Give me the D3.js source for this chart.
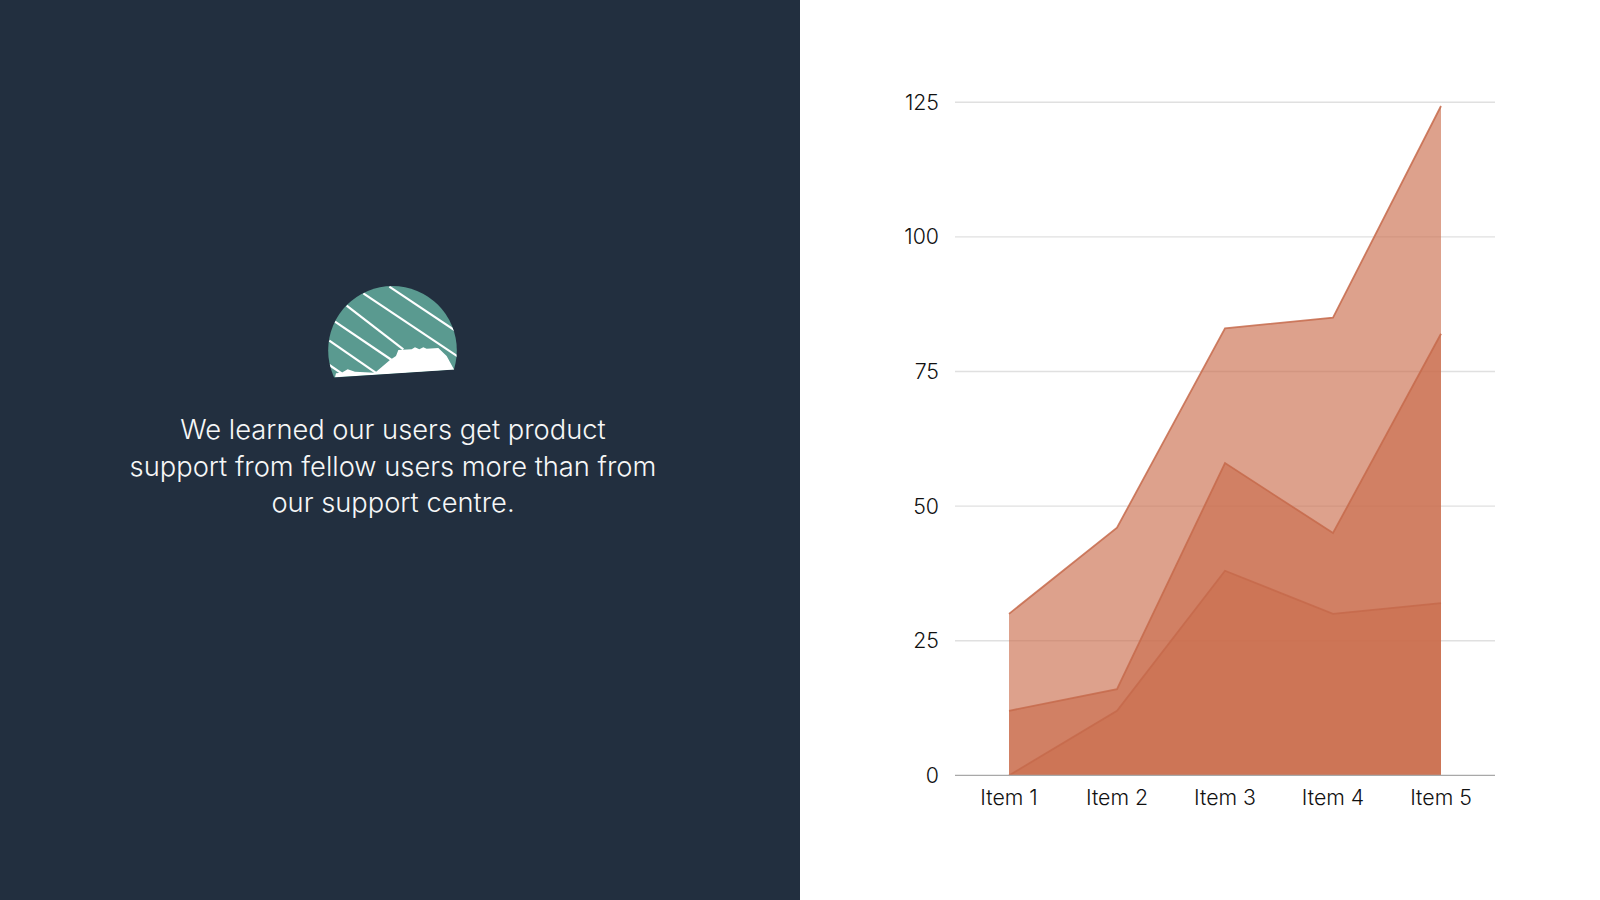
<!DOCTYPE html>
<html>
<head>
<meta charset="utf-8">
<script src="https://cdn.jsdelivr.net/npm/d3@7"></script>
<style>
html, body { margin: 0; padding: 0; background: #fff; }
svg { display: block; }
text { font-family: Inter, "Open Sans", sans-serif; font-weight: 300; }
</style>
</head>
<body>
<script>
var categories = ['Item 1', 'Item 2', 'Item 3', 'Item 4', 'Item 5'];
var series1 = [30, 46, 83, 85, 124.3];
var series2 = [12, 16, 58, 45, 82];
var series3 = [0, 12, 38, 30, 32];
var yTicks = [0, 25, 50, 75, 100, 125];
var captionLines = [
    'We learned our users get product',
    'support from fellow users more than from',
    'our support centre.'
];

var svg = d3.select('body').append('svg')
            .attr('width', 1600).attr('height', 900);

svg.append('rect').attr('width', 1600).attr('height', 900).attr('fill', '#fff');
svg.append('rect').attr('width', 800).attr('height', 900).attr('fill', '#222f3f');

// logo, drawn in zoomed coordinates
var logo = svg.append('g').attr('transform', 'translate(300,270) scale(0.3333)');
var clip = svg.append('clipPath').attr('id', 'logo-clip');
clip.append('path').attr('d', 'M 0 329.5 L 600 289.3 L 600 0 L 0 0 Z');
var logoBody = logo.append('g').attr('clip-path', 'url(#logo-clip)');
logoBody.append('circle').attr('cx', 277.5).attr('cy', 241).attr('r', 193).attr('fill', '#5a9a90');
var stripes = [
    [268, 50, 470, 185], [190, 70, 480, 264], [140, 107, 310, 238],
    [105, 155, 275, 270], [88, 212, 230, 310], [88, 285, 125, 310]
];
var stripeClip = svg.append('clipPath').attr('id', 'stripe-clip');
stripeClip.append('circle').attr('cx', 277.5).attr('cy', 241).attr('r', 193);
logoBody.append('g').attr('clip-path', 'url(#stripe-clip)')
    .selectAll('line').data(stripes).enter().append('line')
    .attr('x1', function(d) { return d[0]; })
    .attr('y1', function(d) { return d[1]; })
    .attr('x2', function(d) { return d[2]; })
    .attr('y2', function(d) { return d[3]; })
    .attr('stroke', '#fff').attr('stroke-width', 6.5);
var ridge = [[105, 322], [108, 310], [125, 308], [143, 298], [165, 305], [225, 308], [270, 270],
    [288, 258], [295, 240], [335, 238], [345, 232], [358, 238], [370, 232], [380, 236],
    [415, 234], [440, 258], [463, 300]];
logoBody.append('path').attr('d', d3.line()(ridge) + 'Z').attr('fill', '#fff');

// caption
svg.selectAll('.caption').data(captionLines).enter().append('text')
    .attr('class', 'caption')
    .attr('x', 393)
    .attr('y', function(d, i) { return 439 + i * 36.7; })
    .attr('text-anchor', 'middle')
    .attr('font-size', 27.3)
    .attr('fill', '#f6f7f7')
    .text(function(d) { return d; });

// chart
var x = d3.scaleBand().domain(categories).range([955, 1495]);
var y = d3.scaleLinear().domain([0, 125]).range([775.4, 102.2]);

svg.selectAll('.grid').data(yTicks.slice(1)).enter().append('line')
    .attr('class', 'grid')
    .attr('x1', 955).attr('x2', 1495)
    .attr('y1', function(d) { return y(d); })
    .attr('y2', function(d) { return y(d); })
    .attr('stroke', '#e0e0e0').attr('stroke-width', 1.4);

var area = d3.area()
    .x(function(d, i) { return x(categories[i]) + x.bandwidth() / 2; })
    .y0(y(0))
    .y1(function(d) { return y(d); });
var topLine = d3.line()
    .x(function(d, i) { return x(categories[i]) + x.bandwidth() / 2; })
    .y(function(d) { return y(d); });

[series1, series2, series3].forEach(function(s) {
    svg.append('path').attr('d', area(s))
       .attr('fill', '#cb6e4f').attr('fill-opacity', 0.65);
    svg.append('path').attr('d', topLine(s))
       .attr('fill', 'none')
       .attr('stroke', '#c66a4b').attr('stroke-opacity', 0.85).attr('stroke-width', 1.8);
});

svg.append('line')
    .attr('x1', 955).attr('x2', 1495)
    .attr('y1', y(0)).attr('y2', y(0))
    .attr('stroke', '#a8a8a8').attr('stroke-width', 1.2);

svg.selectAll('.ytick').data(yTicks).enter().append('text')
    .attr('class', 'ytick')
    .attr('x', 939)
    .attr('y', function(d) { return y(d) + 7.5; })
    .attr('text-anchor', 'end')
    .attr('font-size', 21.3)
    .attr('fill', '#111')
    .text(function(d) { return d; });

svg.selectAll('.xtick').data(categories).enter().append('text')
    .attr('class', 'xtick')
    .attr('x', function(d) { return x(d) + x.bandwidth() / 2; })
    .attr('y', 805)
    .attr('text-anchor', 'middle')
    .attr('font-size', 21.3)
    .attr('fill', '#111')
    .text(function(d) { return d; });
</script>
</body>
</html>
